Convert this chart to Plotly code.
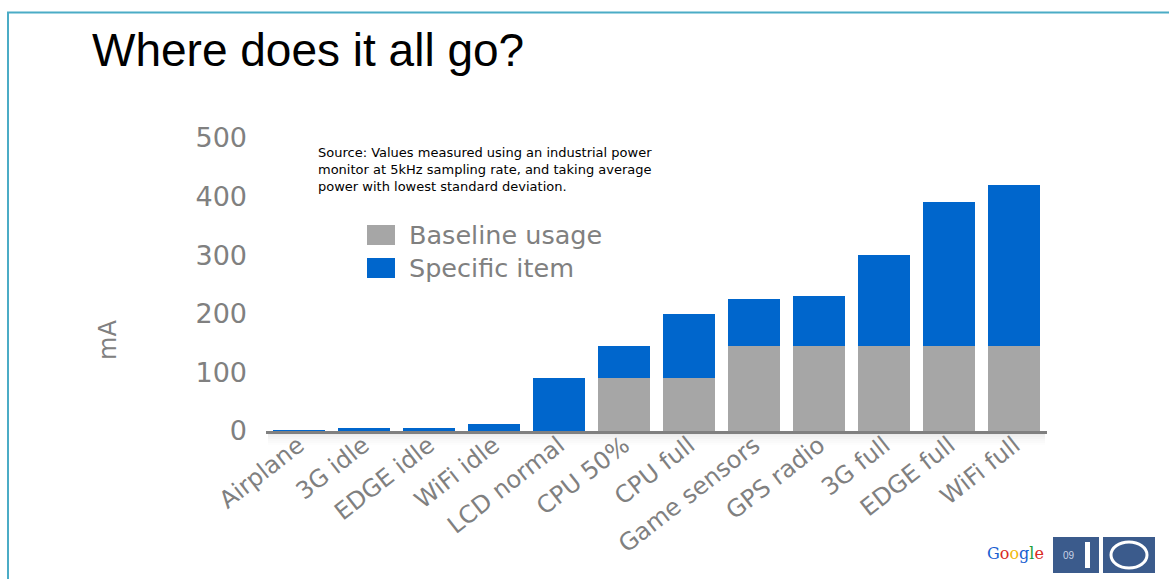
import plotly.graph_objects as go

categories = ["Airplane", "3G idle", "EDGE idle", "WiFi idle", "LCD normal", "CPU 50%",
              "CPU full", "Game sensors", "GPS radio", "3G full", "EDGE full", "WiFi full"]
baseline = [0, 0, 0, 0, 0, 90, 90, 145, 145, 145, 145, 145]
specific = [1, 5, 5, 12, 90, 55, 110, 80, 85, 155, 245, 275]
y_ticks = [0, 100, 200, 300, 400, 500]
source_lines = ["Source: Values measured using an industrial power",
                "monitor at 5kHz sampling rate, and taking average",
                "power with lowest standard deviation."]

W, H = 1169, 579
L, R, T, B = 266, 1047, 138, 431  # plot area in pixels

def px(x):
    return (x - L) / (R - L)

def py(y):
    return (B - y) / (B - T)

GRAY = "#A6A6A6"
BLUE = "#0066CC"
TXT = "#808080"
FONT = "DejaVu Sans, Verdana, Arial, sans-serif"

fig = go.Figure()
fig.add_trace(go.Bar(x=categories, y=baseline, name="Baseline usage",
                     marker=dict(color=GRAY, line=dict(width=0))))
fig.add_trace(go.Bar(x=categories, y=specific, name="Specific item",
                     marker=dict(color=BLUE, line=dict(width=0))))

shapes = []
# slide frame
shapes.append(dict(type="line", xref="paper", yref="paper", x0=px(7), x1=px(1169),
                   y0=py(12.5), y1=py(12.5), line=dict(color="#4BACC6", width=2)))
shapes.append(dict(type="line", xref="paper", yref="paper", x0=px(8), x1=px(8),
                   y0=py(12), y1=py(579), line=dict(color="#4BACC6", width=2)))
# soft shadow under the axis
for i, op in enumerate([0.16, 0.12, 0.09, 0.06, 0.04, 0.02]):
    shapes.append(dict(type="rect", xref="paper", yref="paper",
                       x0=px(268), x1=px(1045), y0=py(433 + 2 * i), y1=py(435 + 2 * i),
                       fillcolor="#808080", opacity=op, line=dict(width=0), layer="below"))
# legend swatches
shapes.append(dict(type="rect", xref="paper", yref="paper", x0=px(367), x1=px(395),
                   y0=py(245), y1=py(225), fillcolor=GRAY, line=dict(width=0)))
shapes.append(dict(type="rect", xref="paper", yref="paper", x0=px(367), x1=px(395),
                   y0=py(278), y1=py(258), fillcolor=BLUE, line=dict(width=0)))
# Google I/O logo
LOGO = "#3B5B8C"
shapes.append(dict(type="rect", xref="paper", yref="paper", x0=px(1053), x1=px(1099),
                   y0=py(573), y1=py(537), fillcolor=LOGO, line=dict(width=0)))
shapes.append(dict(type="rect", xref="paper", yref="paper", x0=px(1103), x1=px(1155),
                   y0=py(573), y1=py(537), fillcolor=LOGO, line=dict(width=0)))
shapes.append(dict(type="rect", xref="paper", yref="paper", x0=px(1085), x1=px(1090),
                   y0=py(568), y1=py(542), fillcolor="white", line=dict(width=0)))
shapes.append(dict(type="circle", xref="paper", yref="paper", x0=px(1111), x1=px(1147),
                   y0=py(568), y1=py(542), fillcolor="rgba(0,0,0,0)",
                   line=dict(color="white", width=3)))

annotations = []
annotations.append(dict(text="Where does it all go?", xref="paper", yref="paper",
                        x=px(90), y=py(50), xanchor="left", yanchor="middle", showarrow=False,
                        font=dict(family="Arial, Liberation Sans, sans-serif", size=46, color="black")))
annotations.append(dict(text="<br>".join(source_lines), xref="paper", yref="paper",
                        x=px(316), y=py(143), xanchor="left", yanchor="top", align="left",
                        showarrow=False, font=dict(family=FONT, size=13, color="black")))
annotations.append(dict(text="Baseline usage", xref="paper", yref="paper", x=px(407), y=py(235),
                        xanchor="left", yanchor="middle", showarrow=False,
                        font=dict(family=FONT, size=25.5, color=TXT)))
annotations.append(dict(text="Specific item", xref="paper", yref="paper", x=px(407), y=py(268),
                        xanchor="left", yanchor="middle", showarrow=False,
                        font=dict(family=FONT, size=25.5, color=TXT)))
annotations.append(dict(text="mA", xref="paper", yref="paper", x=px(108), y=py(340),
                        xanchor="center", yanchor="middle", textangle=-90, showarrow=False,
                        font=dict(family=FONT, size=24, color=TXT)))
google = ('<span style="color:#1A5FD1">G</span><span style="color:#D92B1F">o</span>'
          '<span style="color:#F2B90C">o</span><span style="color:#1A5FD1">g</span>'
          '<span style="color:#1B9E3A">l</span><span style="color:#D92B1F">e</span>')
annotations.append(dict(text=google, xref="paper", yref="paper", x=px(1046), y=py(553),
                        xanchor="right", yanchor="middle", showarrow=False,
                        font=dict(family="DejaVu Serif, Liberation Serif, serif", size=16)))
annotations.append(dict(text="09", xref="paper", yref="paper", x=px(1061), y=py(555),
                        xanchor="left", yanchor="middle", showarrow=False,
                        font=dict(family="Arial, sans-serif", size=10, color="#C8D2E4")))

fig.update_layout(
    width=W, height=H,
    margin=dict(l=L, r=W - R, t=T, b=H - B, pad=0),
    paper_bgcolor="white", plot_bgcolor="white",
    barmode="stack", bargap=0.2, showlegend=False,
    shapes=shapes, annotations=annotations,
    xaxis=dict(showgrid=False, showline=True, linecolor="#808080", linewidth=3,
               tickangle=-38, ticks="", ticklabelstandoff=-12,
               tickfont=dict(family=FONT, size=24, color=TXT),
               zeroline=False),
    yaxis=dict(range=[0, 500], tickvals=y_ticks, showgrid=False, zeroline=False,
               showline=False, ticks="", ticklabelstandoff=18,
               tickfont=dict(family=FONT, size=27, color=TXT)),
)

fig.write_html("out.html")
